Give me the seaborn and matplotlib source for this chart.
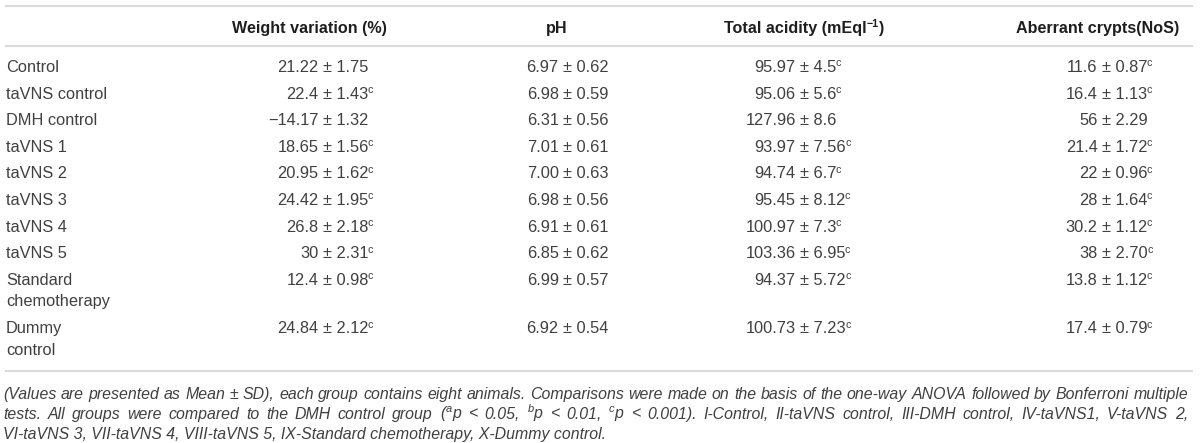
import matplotlib
matplotlib.use("Agg")
import matplotlib.pyplot as plt
import seaborn as sns
from matplotlib import font_manager as fm

# ---------------- data ----------------
groups = ["Control", "taVNS control", "DMH control", "taVNS 1", "taVNS 2",
          "taVNS 3", "taVNS 4", "taVNS 5", "Standard\nchemotherapy", "Dummy\ncontrol"]

columns = ["Weight variation (%)", "pH", "Total acidity (mEql)", "Aberrant crypts(NoS)"]
column_sup = ["", "", "\u22121", ""]

weight_mean = ["21.22", "22.4", "\u221214.17", "18.65", "20.95", "24.42", "26.8", "30", "12.4", "24.84"]
weight_sd = ["1.75", "1.43", "1.32", "1.56", "1.62", "1.95", "2.18", "2.31", "0.98", "2.12"]
weight_sig = ["", "c", "", "c", "c", "c", "c", "c", "c", "c"]

ph_mean = ["6.97", "6.98", "6.31", "7.01", "7.00", "6.98", "6.91", "6.85", "6.99", "6.92"]
ph_sd = ["0.62", "0.59", "0.56", "0.61", "0.63", "0.56", "0.61", "0.62", "0.57", "0.54"]
ph_sig = ["", "", "", "", "", "", "", "", "", ""]

acid_mean = ["95.97", "95.06", "127.96", "93.97", "94.74", "95.45", "100.97", "103.36", "94.37", "100.73"]
acid_sd = ["4.5", "5.6", "8.6", "7.56", "6.7", "8.12", "7.3", "6.95", "5.72", "7.23"]
acid_sig = ["c", "c", "", "c", "c", "c", "c", "c", "c", "c"]

crypt_mean = ["11.6", "16.4", "56", "21.4", "22", "28", "30.2", "38", "13.8", "17.4"]
crypt_sd = ["0.87", "1.13", "2.29", "1.72", "0.96", "1.64", "1.12", "2.70", "1.12", "0.79"]
crypt_sig = ["c", "c", "", "c", "c", "c", "c", "c", "c", "c"]

footnote_lines = [
    "(Values are presented as Mean \u00b1 SD), each group contains eight animals. Comparisons were made on the basis of the one-way ANOVA followed by Bonferroni multiple",
    "tests. All groups were compared to the DMH control group ($^{a}$p < 0.05, $^{b}$p < 0.01, $^{c}$p < 0.001). I-Control, II-taVNS control, III-DMH control, IV-taVNS1, V-taVNS 2,",
    "VI-taVNS 3, VII-taVNS 4, VIII-taVNS 5, IX-Standard chemotherapy, X-Dummy control.",
]

# ---------------- style ----------------
sns.set_theme(style="white")
names = {f.name for f in fm.fontManager.ttflist}
BODY = "Liberation Sans" if "Liberation Sans" in names else "DejaVu Sans"
NARROW = "Liberation Sans Narrow" if "Liberation Sans Narrow" in names else BODY
plt.rcParams["font.family"] = [BODY, "DejaVu Sans"]
plt.rcParams["mathtext.fontset"] = "custom"
plt.rcParams["mathtext.rm"] = BODY
plt.rcParams["mathtext.it"] = f"{NARROW}:italic"
plt.rcParams["mathtext.bf"] = f"{BODY}:bold"

W, H, DPI = 1200, 443, 100
fig = plt.figure(figsize=(W / DPI, H / DPI), dpi=DPI)
fig.patch.set_facecolor("white")
ax = fig.add_axes([0, 0, 1, 1])
ax.set_xlim(0, W)
ax.set_ylim(H, 0)
ax.axis("off")

fig.canvas.draw()
renderer = fig.canvas.get_renderer()

BODY_FS = 11.8
HEAD_FS = 11.6
px = BODY_FS * DPI / 72.0
hpx = HEAD_FS * DPI / 72.0
TXT = "#404040"
HEAD = "#1e1e1e"
RULE = "#d9d9d9"


def right_edge(t):
    bb = t.get_window_extent(renderer)
    return ax.transData.inverted().transform((bb.x1, bb.y0))[0]


def add_sup(t, s, base, fs, **kw):
    x1 = right_edge(t)
    ax.text(x1 - 0.8, base - 0.34 * fs * DPI / 72, s, ha="left", va="baseline",
            fontsize=fs * 0.66, **kw)


# rules
for yy in (6, 45.5, 370.5):
    ax.plot([5, 1193], [yy, yy], color=RULE, lw=1.5, solid_capstyle="butt")

# headers
head_x = [309.5, 556.5, 804, 1097.5]
hbase = 27 + 0.36 * hpx
for hx, h, sup in zip(head_x, columns, column_sup):
    if sup:
        main, tail = h[:-1], h[-1]
        t0 = ax.text(0, hbase, main, ha="left", va="baseline",
                     fontsize=HEAD_FS, fontweight="bold", color=HEAD)
        wmain = t0.get_window_extent(renderer).width
        t1 = ax.text(0, hbase, tail, ha="left", va="baseline",
                     fontsize=HEAD_FS, fontweight="bold", color=HEAD)
        wtail = t1.get_window_extent(renderer).width
        ts = ax.text(0, hbase - 0.38 * hpx, sup, ha="left", va="baseline",
                     fontsize=HEAD_FS * 0.66, fontweight="bold", color=HEAD)
        wsup = ts.get_window_extent(renderer).width
        total = wmain + wsup + wtail
        x0 = hx - total / 2
        t0.set_x(x0)
        ts.set_x(x0 + wmain)
        t1.set_x(x0 + wmain + wsup)
    else:
        ax.text(hx, hbase, h, ha="center", va="baseline",
                fontsize=HEAD_FS, fontweight="bold", color=HEAD)

# rows
pm_x = [328, 568, 805, 1107]
col_data = [(weight_mean, weight_sd, weight_sig), (ph_mean, ph_sd, ph_sig),
            (acid_mean, acid_sd, acid_sig), (crypt_mean, crypt_sd, crypt_sig)]

y = 66.0
step = 26.6
wrap_extra = 21.8
pm_half = 0.584 * px / 2
space = 0.278 * px
for i, g in enumerate(groups):
    base = y + 0.36 * px
    for j, part in enumerate(g.split("\n")):
        ax.text(6, base + j * wrap_extra, part, ha="left", va="baseline",
                fontsize=BODY_FS, color=TXT)
    for cx, (m, s, sig) in zip(pm_x, col_data):
        ax.text(cx - pm_half - space, base, m[i], ha="right", va="baseline",
                fontsize=BODY_FS, color=TXT)
        t = ax.text(cx - pm_half, base, "\u00b1 " + s[i], ha="left", va="baseline",
                    fontsize=BODY_FS, color=TXT)
        if sig[i]:
            add_sup(t, sig[i], base, BODY_FS, color=TXT)
    y += step + wrap_extra * g.count("\n")

# footnote (justified first two lines)
probe = ax.text(0, 0, footnote_lines[0], fontsize=10, fontstyle="italic",
                family=[NARROW, "DejaVu Sans"])
wprobe = probe.get_window_extent(renderer).width
probe.remove()
FN_FS = min(10 * 1184 / wprobe, 12.5)
fpx = FN_FS * DPI / 72
fn_y = [393, 413, 433]
left, right = 3, 1188
for k, line in enumerate(footnote_lines):
    base = fn_y[k] + 0.36 * fpx
    if k < 2:
        words = line.split(" ")
        arts = [ax.text(0, base, w_, ha="left", va="baseline", fontsize=FN_FS,
                        fontstyle="italic", color=TXT, family=[NARROW, "DejaVu Sans"])
                for w_ in words]
        widths = [a.get_window_extent(renderer).width for a in arts]
        gap = (right - left - sum(widths)) / (len(words) - 1)
        xx = left
        for a, wd in zip(arts, widths):
            a.set_x(xx)
            xx += wd + gap
    else:
        ax.text(left, base, line, ha="left", va="baseline", fontsize=FN_FS,
                fontstyle="italic", color=TXT, family=[NARROW, "DejaVu Sans"])

fig.savefig("out.png", dpi=DPI, facecolor="white")
